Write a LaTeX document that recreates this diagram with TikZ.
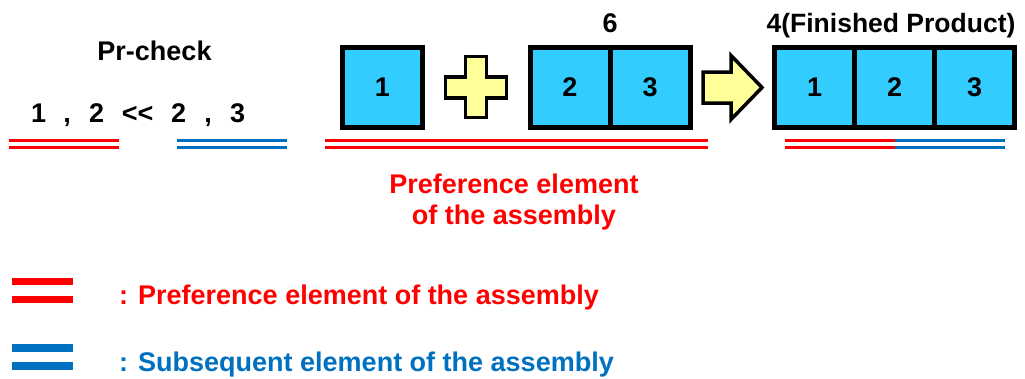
\documentclass[tikz,border=0pt]{standalone}
\usepackage{fontspec}
\setmainfont{Liberation Sans}
\definecolor{boxcyan}{HTML}{33CCFF}
\definecolor{pyellow}{HTML}{FFFF99}
\definecolor{pred}{HTML}{FF0000}
\definecolor{pblue}{HTML}{0070C0}
\begin{document}
\begin{tikzpicture}[x=1pt,y=-1pt,
  part/.style={draw=black,line width=5pt,fill=boxcyan,minimum width=80pt,minimum height=80pt,inner sep=0pt,font=\fontsize{27}{32}\selectfont\bfseries},
  lbl/.style={inner sep=0pt,anchor=base,font=\fontsize{27}{31}\selectfont\bfseries},
  thinred/.style={draw=pred,line width=3pt},
  thinblue/.style={draw=pblue,line width=3pt},
  thickred/.style={draw=pred,line width=7.5pt},
  thickblue/.style={draw=pblue,line width=7.5pt},
  sym/.style={draw=black,line width=3.5pt,fill=pyellow,line join=miter}]
\useasboundingbox (0,0) rectangle (1025,378);

% Pr-check
\node[lbl] (prcheck) at (154.5,60) {Pr-check};
\node[lbl,anchor=base west] (seq) at (38.5,122) {\makebox[0pt]{1}\hspace{28.5pt}\makebox[0pt]{,}\hspace{29.5pt}\makebox[0pt]{2}\hspace{41pt}\makebox[0pt]{<{}<}\hspace{41pt}\makebox[0pt]{2}\hspace{29.5pt}\makebox[0pt]{,}\hspace{29.5pt}\makebox[0pt]{3}};
\coordinate (lr1) at (9,140); \coordinate (lr2) at (119,140);
\coordinate (lr3) at (9,147); \coordinate (lr4) at (119,147);
\draw[thinred] (lr1) -- (lr2); \draw[thinred] (lr3) -- (lr4);
\coordinate (lb1) at (177,140); \coordinate (lb2) at (287,140);
\coordinate (lb3) at (177,147); \coordinate (lb4) at (287,147);
\draw[thinblue] (lb1) -- (lb2); \draw[thinblue] (lb3) -- (lb4);

% assembly
\node[part] (a1) at (382.5,87.5) {1};
\draw[sym] (465.5,56.5) -- (486.5,56.5) -- (486.5,77) -- (506.5,77) -- (506.5,98) -- (486.5,98) -- (486.5,117.5) -- (465.5,117.5) -- (465.5,98) -- (445.5,98) -- (445.5,77) -- (465.5,77) -- cycle;
\node[part] (a2) at (570,87.5) {2};
\node[part] (a3) at (650,87.5) {3};
\node[lbl] (six) at (610,32) {6};
\coordinate (mr1) at (325,140); \coordinate (mr2) at (708,140);
\coordinate (mr3) at (325,147); \coordinate (mr4) at (708,147);
\draw[thinred] (mr1) -- (mr2); \draw[thinred] (mr3) -- (mr4);
\node[lbl,text=pred,align=center,anchor=base] (pref) at (514,224) {Preference element\\of the assembly};

% arrow
\draw[sym] (703,72) -- (731,72) -- (731,55.5) -- (762,87.5) -- (731,119.5) -- (731,103) -- (703,103) -- cycle;

% finished product
\node[part] (f1) at (814.5,87.5) {1};
\node[part] (f2) at (894.5,87.5) {2};
\node[part] (f3) at (974.5,87.5) {3};
\node[lbl,font=\fontsize{26.5}{31}\selectfont\bfseries] (fin) at (891,32) {4(Finished Product)};
\coordinate (fr1) at (785,140); \coordinate (fr2) at (895,140);
\coordinate (fr3) at (785,147); \coordinate (fr4) at (895,147);
\coordinate (fb2) at (1005,140); \coordinate (fb4) at (1005,147);
\draw[thinred] (fr1) -- (fr2); \draw[thinred] (fr3) -- (fr4);
\draw[thinblue] (fr2) -- (fb2); \draw[thinblue] (fr4) -- (fb4);

% legend
\coordinate (g1) at (12,281.5); \coordinate (g2) at (73,281.5);
\coordinate (g3) at (12,299.5); \coordinate (g4) at (73,299.5);
\draw[thickred] (g1) -- (g2); \draw[thickred] (g3) -- (g4);
\coordinate (h1) at (12,348); \coordinate (h2) at (73,348);
\coordinate (h3) at (12,366); \coordinate (h4) at (73,366);
\draw[thickblue] (h1) -- (h2); \draw[thickblue] (h3) -- (h4);
\node[lbl,anchor=base west,text=pred] (legred) at (119,304) {: Preference element of the assembly};
\node[lbl,anchor=base west,text=pblue] (legblue) at (119,371) {: Subsequent element of the assembly};
\end{tikzpicture}
\end{document}
